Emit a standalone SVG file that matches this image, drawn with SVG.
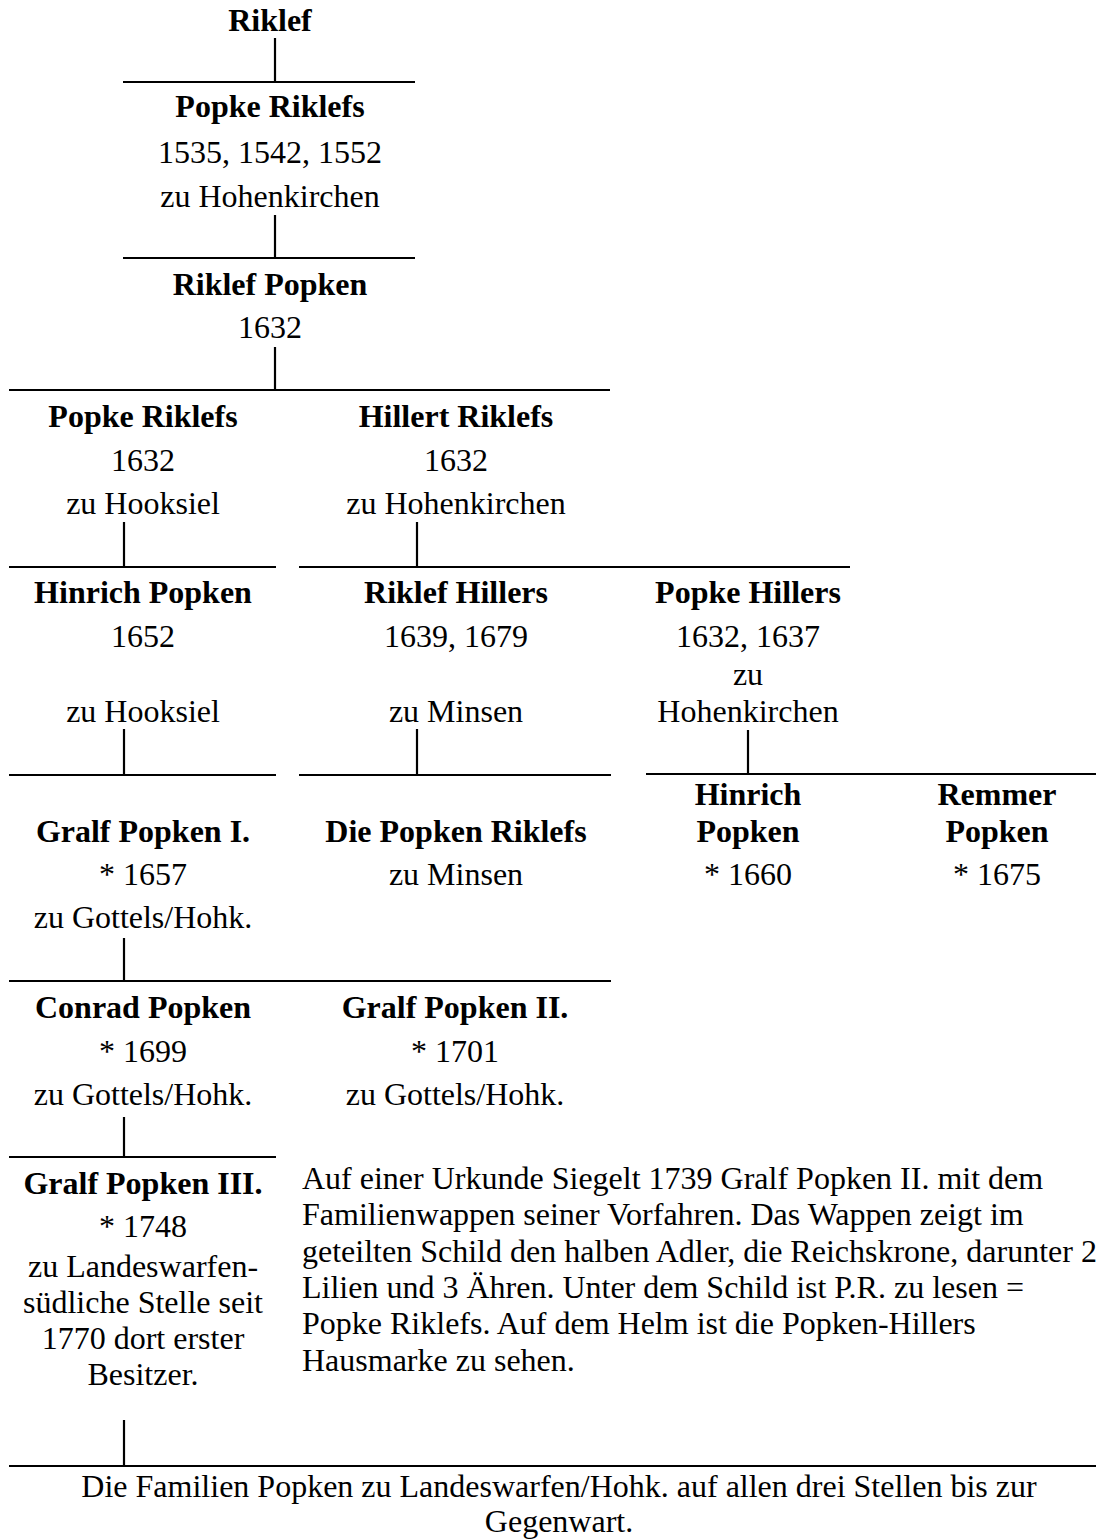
<svg xmlns="http://www.w3.org/2000/svg" width="1096" height="1539" viewBox="0 0 1096 1539">
<style>
text{font-family:"Liberation Serif","Times New Roman",serif;font-size:32px;fill:#000;text-anchor:middle}
.b{font-weight:bold}
.l{text-anchor:start}
.c line{stroke:#000;stroke-width:2.2}
</style>
<rect width="1096" height="1539" fill="#fff"/>
<g id="connectors" class="c">
<line x1="275" y1="38" x2="275" y2="82"/><line x1="123" y1="82" x2="415" y2="82"/>
<line x1="275" y1="215" x2="275" y2="258"/><line x1="123" y1="258" x2="415" y2="258"/>
<line x1="275" y1="347" x2="275" y2="390"/><line x1="9" y1="390" x2="610" y2="390"/>
<line x1="124" y1="522" x2="124" y2="567"/><line x1="9" y1="567" x2="276" y2="567"/>
<line x1="417" y1="522" x2="417" y2="567"/><line x1="299" y1="567" x2="850" y2="567"/>
<line x1="124" y1="729" x2="124" y2="775"/><line x1="9" y1="775" x2="276" y2="775"/>
<line x1="417" y1="729" x2="417" y2="775"/><line x1="299" y1="775" x2="611" y2="775"/>
<line x1="748" y1="730" x2="748" y2="774"/><line x1="646" y1="774" x2="1096" y2="774"/>
<line x1="124" y1="938" x2="124" y2="981"/><line x1="9" y1="981" x2="611" y2="981"/>
<line x1="124" y1="1117" x2="124" y2="1157"/><line x1="9" y1="1157" x2="276" y2="1157"/>
<line x1="124" y1="1420" x2="124" y2="1466"/><line x1="9" y1="1466" x2="1096" y2="1466"/>
</g>
<g id="n-riklef"><text class="b" x="270" y="31">Riklef</text></g>
<g id="n-popke-riklefs-1"><text class="b" x="270" y="117">Popke Riklefs</text><text x="270" y="163">1535, 1542, 1552</text><text x="270" y="207">zu Hohenkirchen</text></g>
<g id="n-riklef-popken"><text class="b" x="270" y="295">Riklef Popken</text><text x="270" y="338">1632</text></g>
<g id="n-popke-riklefs-2"><text class="b" x="143" y="427">Popke Riklefs</text><text x="143" y="471">1632</text><text x="143" y="514">zu Hooksiel</text></g>
<g id="n-hillert-riklefs"><text class="b" x="456" y="427">Hillert Riklefs</text><text x="456" y="471">1632</text><text x="456" y="514">zu Hohenkirchen</text></g>
<g id="n-hinrich-popken-1"><text class="b" x="143" y="603">Hinrich Popken</text><text x="143" y="647">1652</text><text x="143" y="722">zu Hooksiel</text></g>
<g id="n-riklef-hillers"><text class="b" x="456" y="603">Riklef Hillers</text><text x="456" y="647">1639, 1679</text><text x="456" y="722">zu Minsen</text></g>
<g id="n-popke-hillers"><text class="b" x="748" y="603">Popke Hillers</text><text x="748" y="647">1632, 1637</text><text x="748" y="685">zu</text><text x="748" y="722">Hohenkirchen</text></g>
<g id="n-gralf-popken-1"><text class="b" x="143" y="842">Gralf Popken I.</text><text x="143" y="885">* 1657</text><text x="143" y="928">zu Gottels/Hohk.</text></g>
<g id="n-die-popken-riklefs"><text class="b" x="456" y="842">Die Popken Riklefs</text><text x="456" y="885">zu Minsen</text></g>
<g id="n-hinrich-popken-2"><text class="b" x="748" y="805">Hinrich</text><text class="b" x="748" y="842">Popken</text><text x="748" y="885">* 1660</text></g>
<g id="n-remmer-popken"><text class="b" x="997" y="805">Remmer</text><text class="b" x="997" y="842">Popken</text><text x="997" y="885">* 1675</text></g>
<g id="n-conrad-popken"><text class="b" x="143" y="1018">Conrad Popken</text><text x="143" y="1062">* 1699</text><text x="143" y="1105">zu Gottels/Hohk.</text></g>
<g id="n-gralf-popken-2"><text class="b" x="455" y="1018">Gralf Popken II.</text><text x="455" y="1062">* 1701</text><text x="455" y="1105">zu Gottels/Hohk.</text></g>
<g id="n-gralf-popken-3"><text class="b" x="143" y="1194">Gralf Popken III.</text><text x="143" y="1237">* 1748</text><text x="143" y="1277">zu Landeswarfen-</text><text x="143" y="1313">südliche Stelle seit</text><text x="143" y="1349">1770 dort erster</text><text x="143" y="1385">Besitzer.</text></g>
<g id="note"><text class="l" x="302" y="1189">Auf einer Urkunde Siegelt 1739 Gralf Popken II. mit dem</text><text class="l" x="302" y="1225">Familienwappen seiner Vorfahren. Das Wappen zeigt im</text><text class="l" x="302" y="1262">geteilten Schild den halben Adler, die Reichskrone, darunter 2</text><text class="l" x="302" y="1298">Lilien und 3 Ähren. Unter dem Schild ist P.R. zu lesen =</text><text class="l" x="302" y="1334">Popke Riklefs. Auf dem Helm ist die Popken-Hillers</text><text class="l" x="302" y="1371">Hausmarke zu sehen.</text></g>
<g id="n-familien"><text x="559" y="1497">Die Familien Popken zu Landeswarfen/Hohk. auf allen drei Stellen bis zur</text><text x="559" y="1532">Gegenwart.</text></g>
</svg>
